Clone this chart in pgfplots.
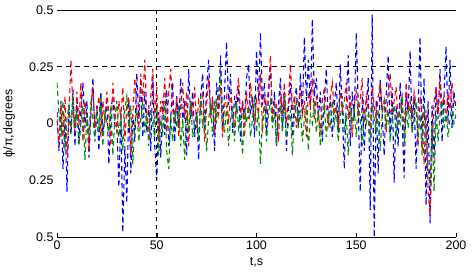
\documentclass[border=0pt]{standalone}
\usepackage{pgfplots}
\pgfplotsset{compat=1.18}
\usepackage{pgfplotstable}
\usepackage{fontspec}
\setmainfont{Liberation Sans}
\pgfplotstableread{
x b r g
0 0.05 0.02 0.18
1 -0.12 -0.10 0.04
2 0.10 0.08 -0.06
3 -0.20 -0.06 0.10
4 0.02 0.12 -0.12
5 -0.30 -0.14 0.02
6 0.08 0.04 0.08
7 -0.05 0.28 -0.04
8 0.15 0.06 0.12
9 -0.10 -0.04 -0.02
10 0.12 0.14 0.06
11 -0.08 0.00 -0.10
12 0.06 0.18 0.00
13 0.18 -0.08 0.08
14 -0.02 0.10 -0.16
15 0.10 0.02 0.04
16 -0.15 -0.12 -0.06
17 0.04 0.08 0.10
18 0.20 0.16 0.02
19 -0.06 -0.02 -0.08
20 0.08 0.06 0.04
21 -0.12 0.12 -0.02
22 0.14 -0.06 0.12
23 -0.04 0.10 -0.10
24 0.02 0.00 0.06
25 0.10 0.14 0.00
26 -0.18 0.04 -0.04
27 0.06 -0.10 0.08
28 0.12 0.18 -0.14
29 -0.02 0.06 0.02
30 0.00 -0.04 0.10
31 -0.28 0.10 -0.06
32 0.05 0.02 0.04
33 -0.48 0.16 -0.12
34 -0.10 -0.08 0.06
35 -0.35 0.08 0.12
36 0.10 0.12 -0.02
37 -0.22 -0.14 0.08
38 0.04 0.04 -0.18
39 -0.08 0.20 0.00
40 0.22 0.06 0.06
41 0.02 -0.02 -0.08
42 0.18 0.22 0.02
43 -0.06 0.10 0.10
44 0.14 0.28 -0.04
45 -0.04 0.04 0.04
46 0.08 -0.06 -0.10
47 -0.12 0.12 0.06
48 0.20 0.24 0.00
49 -0.10 0.02 -0.06
50 -0.25 0.16 0.08
51 0.05 -0.08 -0.14
52 -0.15 0.10 0.02
53 0.10 0.04 -0.04
54 -0.05 0.20 0.10
55 0.15 -0.04 -0.12
56 -0.10 0.14 -0.20
57 0.02 0.24 0.04
58 0.18 0.06 -0.08
59 -0.08 0.00 0.06
60 0.12 0.12 -0.02
61 -0.02 -0.06 0.08
62 0.20 0.08 -0.10
63 0.00 0.18 0.02
64 0.10 0.02 -0.16
65 -0.14 0.14 0.06
66 0.24 -0.10 -0.04
67 0.02 0.10 0.10
68 0.14 0.04 -0.06
69 -0.06 0.16 0.00
70 0.05 -0.02 0.04
71 -0.16 0.10 -0.08
72 0.12 0.06 0.12
73 0.22 0.14 -0.02
74 -0.04 -0.08 0.06
75 0.16 0.08 -0.12
76 0.28 0.20 0.02
77 0.04 0.02 0.08
78 0.10 0.12 -0.06
79 -0.12 -0.04 0.10
80 0.18 0.10 0.00
81 0.06 0.04 0.14
82 0.30 0.16 0.22
83 -0.02 -0.06 0.04
84 0.14 0.08 -0.04
85 0.36 0.12 0.08
86 0.08 0.00 -0.10
87 0.22 0.14 0.02
88 -0.04 0.06 0.06
89 0.12 -0.02 -0.08
90 0.06 0.12 0.10
91 0.16 0.20 -0.02
92 -0.08 0.04 0.04
93 0.10 0.10 -0.14
94 0.02 -0.06 0.06
95 0.20 0.14 0.00
96 0.26 0.02 0.08
97 0.04 0.18 -0.06
98 0.12 0.08 0.02
99 -0.06 0.00 0.12
100 0.32 0.10 -0.04
101 0.10 0.04 0.06
102 0.40 0.22 -0.18
103 0.08 -0.04 0.02
104 0.18 0.12 0.08
105 -0.04 0.06 -0.08
106 0.12 0.16 0.04
107 0.26 0.30 0.10
108 0.00 0.02 -0.02
109 0.14 0.10 0.06
110 -0.10 0.08 -0.10
111 0.08 -0.08 0.02
112 0.20 0.14 0.08
113 -0.02 0.04 -0.04
114 0.14 0.18 0.12
115 -0.12 0.00 -0.06
116 0.06 0.10 0.00
117 0.18 0.26 0.06
118 -0.06 0.06 -0.14
119 0.10 0.12 0.04
120 0.16 -0.02 0.10
121 -0.02 0.08 -0.02
122 0.22 0.16 0.06
123 0.04 0.04 -0.08
124 0.38 0.10 0.02
125 0.10 -0.06 0.08
126 0.28 0.14 -0.12
127 0.06 0.08 0.04
128 0.46 0.20 0.00
129 0.12 0.02 0.10
130 0.20 0.12 -0.04
131 0.02 0.04 0.06
132 0.14 -0.04 -0.10
133 -0.08 0.10 0.02
134 0.10 0.16 0.08
135 0.24 0.06 -0.06
136 0.00 0.00 0.04
137 0.12 0.12 -0.02
138 -0.06 0.18 0.10
139 0.08 0.04 0.00
140 0.18 0.08 0.06
141 -0.04 -0.02 -0.08
142 0.26 0.14 0.02
143 0.06 0.06 0.12
144 -0.20 0.10 -0.04
145 0.10 0.18 0.04
146 0.30 0.02 -0.14
147 -0.10 0.12 0.08
148 0.14 -0.06 0.00
149 0.02 0.08 0.06
150 0.40 0.14 -0.06
151 0.08 0.04 0.10
152 -0.30 0.10 0.02
153 0.12 0.20 -0.10
154 -0.12 0.00 0.06
155 0.06 0.12 0.00
156 0.20 0.06 0.04
157 -0.38 -0.04 -0.08
158 0.48 0.16 0.08
159 -0.50 0.08 0.02
160 0.10 0.02 -0.04
161 -0.22 0.12 0.06
162 0.20 0.18 -0.12
163 0.04 0.06 0.04
164 -0.14 0.10 0.10
165 0.12 -0.04 -0.02
166 0.30 0.14 0.06
167 -0.06 0.22 -0.08
168 0.16 0.04 0.02
169 -0.26 0.10 0.08
170 0.08 0.16 -0.06
171 -0.10 0.00 0.04
172 0.18 0.08 0.00
173 0.02 0.12 0.12
174 -0.24 -0.06 -0.10
175 0.14 0.18 0.06
176 0.04 0.06 -0.02
177 0.32 0.10 0.08
178 -0.04 0.02 -0.04
179 0.12 0.14 0.02
180 -0.20 0.08 0.10
181 0.06 -0.10 -0.06
182 0.38 0.12 0.04
183 -0.10 0.04 -0.14
184 0.20 -0.18 0.08
185 -0.36 0.06 -0.04
186 0.10 -0.30 -0.20
187 -0.44 -0.40 -0.28
188 0.08 -0.12 0.00
189 -0.16 0.10 -0.30
190 0.16 0.16 0.06
191 0.02 0.04 -0.08
192 0.24 0.20 0.04
193 -0.08 0.08 0.10
194 0.12 0.12 -0.02
195 0.34 0.00 0.06
196 0.00 0.14 -0.06
197 0.28 0.06 0.02
198 -0.02 0.18 0.08
199 0.14 0.10 0.00
200 0.06 0.08 0.04
}\data
\begin{document}
\begin{tikzpicture}
\begin{axis}[
  scale only axis, width=399bp, height=227bp,
  xmin=0, xmax=200, ymin=-0.5, ymax=0.5,
  separate axis lines,
  y axis line style={draw=none},
  x axis line style={black, line width=0.8pt},
  xtick={0,50,100,150,200},
  ytick={-0.5,-0.25,0,0.25,0.5},
  yticklabels={0.5,0.25,0,0.25,0.5},
  ytick style={draw=none},
  xtick pos=lower,
  tick align=inside,
  xtick style={black},
  /pgf/number format/assume math mode=true,
  ticklabel style={font=\fontsize{12.5}{14}\selectfont},
  label style={font=\fontsize{12.5}{14}\selectfont},
  xlabel={t,s},
  ylabel={ϕ/π,degrees},
  xlabel style={at={(axis description cs:0.5,-0.112)}, anchor=center},
  ylabel style={at={(axis description cs:-0.12,0.5)}, anchor=center},
  clip=true,
]
\addplot[blue, line width=1.1pt, dash pattern=on 5pt off 3.5pt] table[x=x, y=b] {\data};
\addplot[red, line width=1.1pt, dash pattern=on 5pt off 3.5pt] table[x=x, y=r] {\data};
\addplot[green!55!black, line width=1.1pt, dash pattern=on 5pt off 3.5pt] table[x=x, y=g] {\data};
\addplot[black, line width=1pt, dash pattern=on 5pt off 4pt] coordinates {(0,0.25) (200,0.25)};
\addplot[black, line width=1pt, dash pattern=on 4pt off 4pt] coordinates {(50,-0.5) (50,0.5)};
\end{axis}
\pgfresetboundingbox
\path (-57bp,-39bp) rectangle (416bp,237bp);
\end{tikzpicture}
\end{document}
